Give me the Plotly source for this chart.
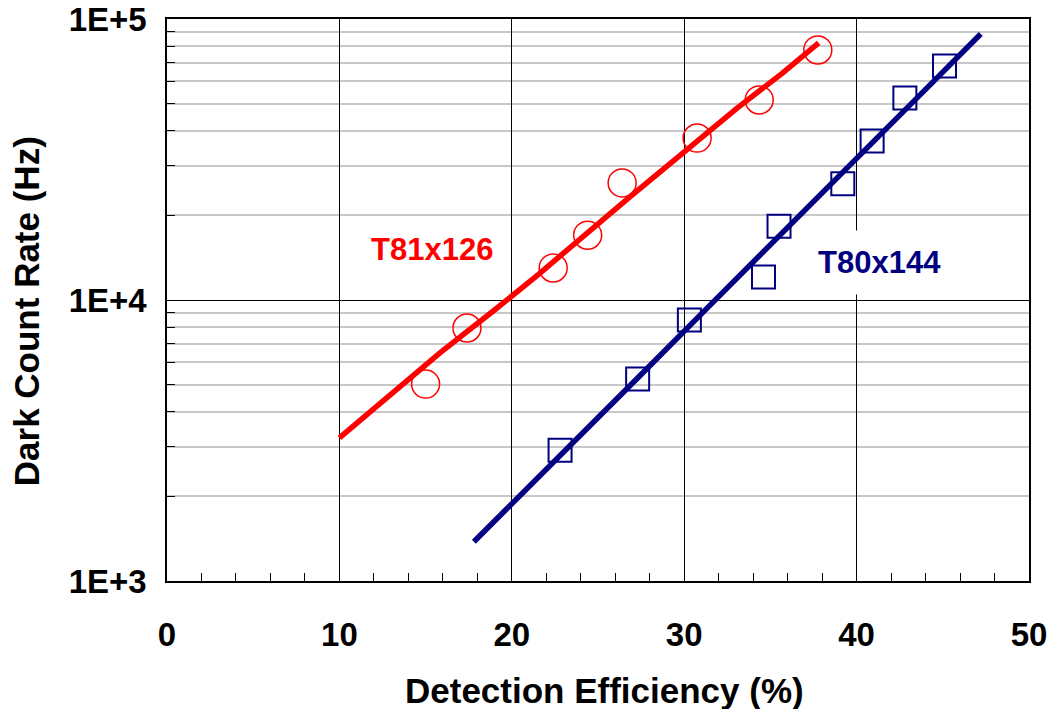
import plotly.graph_objects as go

# ---- data ----
red_pts_x = [15.0, 17.4, 22.4, 24.4, 26.4, 30.75, 34.35, 37.75]
red_pts_y = [5020, 7950, 13000, 17000, 26100, 37700, 51500, 77600]

red_fit_x = [10.0, 12.4, 15.85, 19.0, 20.0, 21.5, 26.85, 29.95, 33.07, 35.7, 37.8]
red_fit_y = [3230, 4300, 6500, 9210, 10330, 12270, 23270, 33640, 48200, 64200, 82200]

blue_pts_x = [22.8, 27.3, 30.3, 34.6, 35.5, 39.2, 40.9, 42.8, 45.1]
blue_pts_y = [2920, 5230, 8490, 12080, 18300, 25900, 36800, 52300, 68000]

blue_fit_x = [17.8, 20.9, 24.0, 27.3, 31.3, 35.0, 40.0, 44.0, 47.2]
blue_fit_y = [1380, 2130, 3320, 5280, 9320, 15800, 32000, 56200, 88400]

y_major = [1000, 10000, 100000]
y_major_text = ["1E+3", "1E+4", "1E+5"]
y_minor = [m * 10 ** e for e in (3, 4) for m in range(2, 10)]

RED = "#FF0000"
NAVY = "#000080"
FONT = "Liberation Sans, Arial, sans-serif"

fig = go.Figure()
fig.add_trace(go.Scatter(x=red_fit_x, y=red_fit_y, mode="lines",
                         line=dict(color=RED, width=5.5), showlegend=False))
fig.add_trace(go.Scatter(x=blue_fit_x, y=blue_fit_y, mode="lines",
                         line=dict(color=NAVY, width=5.5), showlegend=False))
fig.add_trace(go.Scatter(x=red_pts_x, y=red_pts_y, mode="markers",
                         marker=dict(symbol="circle-open", size=28, color=RED,
                                     line=dict(width=1.5, color=RED)), showlegend=False))
fig.add_trace(go.Scatter(x=blue_pts_x, y=blue_pts_y, mode="markers",
                         marker=dict(symbol="square-open", size=23, color=NAVY,
                                     line=dict(width=2, color=NAVY)), showlegend=False))

fig.update_layout(
    width=1049, height=709,
    margin=dict(l=167, r=20, t=19, b=128),
    paper_bgcolor="white", plot_bgcolor="white",
    font=dict(family=FONT, color="black"),
    xaxis=dict(range=[0, 50], tick0=0, dtick=10, showgrid=True, gridcolor="black", gridwidth=1,
               ticks="", showline=True, mirror=True, linecolor="black", linewidth=1.5,
               zeroline=False, automargin=False,
               tickfont=dict(family=FONT, size=33, color="black", weight="bold"),
               ticklabelstandoff=24,
               minor=dict(dtick=2, tick0=0, ticks="inside", ticklen=8, tickcolor="black",
                          tickwidth=1, showgrid=False)),
    yaxis=dict(type="log", range=[3, 5], tickvals=y_major, ticktext=y_major_text,
               showgrid=True, gridcolor="black", gridwidth=1,
               ticks="", showline=True, mirror=True, linecolor="black", linewidth=1.5,
               zeroline=False, automargin=False,
               tickfont=dict(family=FONT, size=33, color="black", weight="bold"),
               ticklabelstandoff=12,
               minor=dict(tickvals=y_minor, ticks="inside", ticklen=8, tickcolor="black",
                          tickwidth=1, showgrid=True, gridcolor="#c8c8c8", gridwidth=1.5)),
    annotations=[
        dict(text="T81x126", x=15.38, y=4.178, xref="x", yref="y", showarrow=False,
             xanchor="center", yanchor="middle",
             font=dict(family=FONT, size=31, color=RED, weight="bold")),
        dict(text="T80x144", x=41.35, y=4.132, xref="x", yref="y", showarrow=False,
             xanchor="center", yanchor="middle",
             bgcolor="white", borderpad=14,
             font=dict(family=FONT, size=31, color=NAVY, weight="bold")),
        dict(text="Detection Efficiency (%)", x=0.507, y=-0.194, xref="paper", yref="paper",
             xanchor="center", yanchor="middle",
             showarrow=False, font=dict(family=FONT, size=35, color="black", weight="bold")),
        dict(text="Dark Count Rate (Hz)", x=-0.1636, y=0.48, xref="paper", yref="paper",
             xanchor="center", yanchor="middle",
             showarrow=False, textangle=-90,
             font=dict(family=FONT, size=35, color="black", weight="bold")),
    ],
)

fig.write_html("out.html")
